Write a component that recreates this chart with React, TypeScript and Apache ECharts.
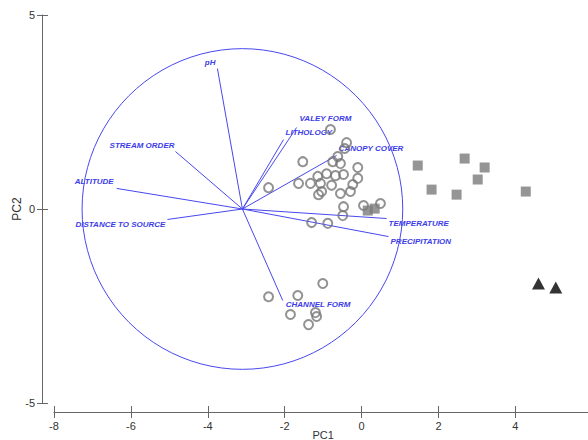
import React, { useEffect, useRef } from "react";
import * as echarts from "echarts";

// Sites (open circles)
const circleX = [-0.81, -0.39, -0.44, -0.62, -0.75, -0.55, -1.53, -0.1, -2.42, -1.64, -1.33, -1.14, -0.91, -0.68, -0.47, -0.1, -1.07, -0.78, -1.04, -1.12, -0.55, -0.29, -0.23, -0.47, -0.49, 0.05, 0.49, -1.3, -0.88, -1.01, -2.42, -1.66, -1.85, -1.2, -1.17, -1.38];
const circleY = [2.05, 1.71, 1.56, 1.35, 1.22, 1.17, 1.22, 1.07, 0.55, 0.66, 0.66, 0.84, 0.91, 0.86, 0.89, 0.79, 0.66, 0.61, 0.45, 0.37, 0.4, 0.45, 0.63, 0.06, -0.17, 0.09, 0.14, -0.35, -0.37, -1.92, -2.26, -2.23, -2.72, -2.67, -2.77, -2.98];

// Sites (filled squares)
const squareX = [1.46, 2.68, 3.2, 3.02, 1.82, 2.47, 4.27, 0.16, 0.34];
const squareY = [1.12, 1.3, 1.07, 0.76, 0.5, 0.37, 0.45, -0.04, 0.01];

// Sites (filled triangles)
const triangleX = [4.6, 5.05];
const triangleY = [-1.92, -2.02];

// Environmental vectors
const vectorNames = ["pH", "STREAM ORDER", "ALTITUDE", "DISTANCE TO SOURCE", "LITHOLOGY", "VALEY FORM", "CANOPY COVER", "TEMPERATURE", "PRECIPITATION", "CHANNEL FORM"];
const vectorX = [-3.75, -4.84, -6.37, -5.05, -2.03, -1.69, -0.65, 0.65, 0.7, -2.05];
const vectorY = [3.62, 1.48, 0.53, -0.27, 1.79, 2.1, 1.38, -0.245, -0.71, -2.36];
const vectorOriginX = -3.1;
const vectorOriginY = 0;
const circleRadius = 4.17;

// Axis ticks
const xMin = -8, xMax = 6, xStep = 2;
const yMin = -5, yMax = 5, yStep = 5;

// label placement (style only)
const labelPlacement: { align: string; dx: number; dy: number }[] = [
  { align: "right", dx: -2, dy: -6 },
  { align: "right", dx: -1, dy: -6 },
  { align: "right", dx: -3, dy: -7 },
  { align: "right", dx: -2, dy: 5 },
  { align: "left", dx: 2, dy: -7 },
  { align: "left", dx: 3, dy: -9 },
  { align: "left", dx: 2, dy: -7 },
  { align: "left", dx: 2, dy: 5 },
  { align: "left", dx: 2, dy: 5 },
  { align: "left", dx: 3, dy: 4 },
];

const BLUE_LINE = "#4848ee";
const BLUE_TEXT = "#3c3ce8";
const AXIS = "#666666";
const FONT = "'Liberation Sans', Arial, sans-serif";

export default function App() {
  const ref = useRef<HTMLDivElement>(null);
  useEffect(() => {
    document.body.style.margin = "0";
    const chart = echarts.init(ref.current!, null, { renderer: "svg" });
    const axisCommonX = {
      type: "value",
      min: xMin,
      max: xMax,
      interval: xStep,
      position: "bottom",
      offset: 9,
      splitLine: { show: false },
    };
    const axisCommonY = {
      type: "value",
      min: yMin,
      max: yMax,
      interval: yStep,
      position: "left",
      offset: 12,
      splitLine: { show: false },
    };
    chart.setOption({
      animation: false,
      textStyle: { fontFamily: FONT },
      grid: { left: 54, right: -4.3, top: 15, bottom: 37, containLabel: false, outerBoundsMode: "none" },
      xAxis: [
        {
          ...axisCommonX,
          axisLine: { show: true, onZero: false, lineStyle: { color: AXIS, width: 1 } },
          axisTick: { show: true, inside: false, length: 6, lineStyle: { color: AXIS } },
          axisLabel: { margin: 8, color: "#333", fontSize: 11, fontFamily: FONT, showMaxLabel: false },
          name: "PC1",
          nameLocation: "middle",
          nameGap: 17,
          nameMoveOverlap: false,
          nameTextStyle: { color: "#333", fontSize: 11, fontFamily: FONT },
        },
        {
          ...axisCommonX,
          axisLine: { show: false, onZero: false },
          axisTick: { show: true, inside: true, length: 6, lineStyle: { color: AXIS } },
          axisLabel: { show: false },
        },
      ],
      yAxis: [
        {
          ...axisCommonY,
          axisLine: { show: true, onZero: false, lineStyle: { color: AXIS, width: 1 } },
          axisTick: { show: true, inside: false, length: 5, lineStyle: { color: AXIS } },
          axisLabel: { margin: 7, color: "#333", fontSize: 11, fontFamily: FONT },
          name: "PC2",
          nameLocation: "middle",
          nameGap: 19,
          nameMoveOverlap: false,
          nameTextStyle: { color: "#333", fontSize: 12, fontFamily: FONT },
        },
        {
          ...axisCommonY,
          axisLine: { show: false, onZero: false },
          axisTick: { show: true, inside: true, length: 6, lineStyle: { color: AXIS } },
          axisLabel: { show: false },
        },
      ],
      series: [
        {
          type: "custom",
          name: "circle",
          clip: false,
          encode: { x: 0, y: 1 },
          data: [[vectorOriginX, vectorOriginY, circleRadius]],
          renderItem: (params: any, api: any) => {
            const c = api.coord([api.value(0), api.value(1)]);
            const r = api.size([api.value(2), 0])[0];
            return {
              type: "circle",
              shape: { cx: c[0], cy: c[1], r },
              style: { fill: "none", stroke: BLUE_LINE, lineWidth: 1 },
            };
          },
          silent: true,
        },
        {
          type: "custom",
          name: "vectors",
          clip: false,
          encode: { x: [0, 2], y: [1, 3] },
          data: vectorNames.map((n, i) => [vectorOriginX, vectorOriginY, vectorX[i], vectorY[i], i]),
          renderItem: (params: any, api: any) => {
            const i = api.value(4);
            const s = api.coord([api.value(0), api.value(1)]);
            const e = api.coord([api.value(2), api.value(3)]);
            const p = labelPlacement[i];
            return {
              type: "group",
              children: [
                {
                  type: "line",
                  shape: { x1: s[0], y1: s[1], x2: e[0], y2: e[1] },
                  style: { stroke: BLUE_LINE, lineWidth: 1 },
                },
                {
                  type: "text",
                  x: e[0] + p.dx,
                  y: e[1] + p.dy,
                  style: {
                    text: vectorNames[i],
                    fill: BLUE_TEXT,
                    fontSize: 8,
                    fontStyle: "italic",
                    fontWeight: "bold",
                    fontFamily: FONT,
                    align: p.align,
                    verticalAlign: "middle",
                  },
                },
              ],
            };
          },
          silent: true,
        },
        {
          type: "scatter",
          data: circleX.map((x, i) => [x, circleY[i]]),
          symbol: "circle",
          symbolSize: 9,
          itemStyle: { color: "rgba(0,0,0,0)", borderColor: "#777", borderWidth: 2 },
          silent: true,
        },
        {
          type: "scatter",
          data: squareX.map((x, i) => [x, squareY[i]]),
          symbol: "rect",
          symbolSize: 10,
          itemStyle: { color: "#7a7a7a" },
          silent: true,
        },
        {
          type: "scatter",
          data: triangleX.map((x, i) => [x, triangleY[i]]),
          symbol: "triangle",
          symbolSize: [13, 12],
          itemStyle: { color: "#000" },
          silent: true,
        },
      ],
    });
    return () => chart.dispose();
  }, []);
  return <div ref={ref} style={{ width: 588, height: 440 }} />;
}
